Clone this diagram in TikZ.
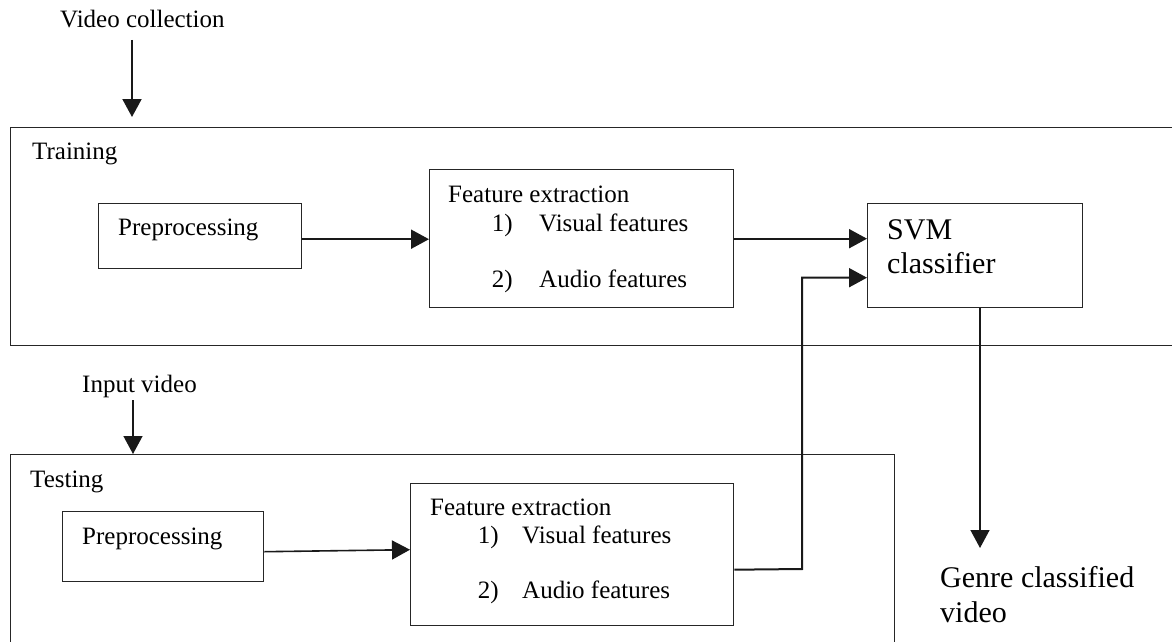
\documentclass[tikz,border=0pt]{standalone}
\usepackage{fontspec}
\setmainfont{Liberation Serif}
\usetikzlibrary{arrows.meta}
\begin{document}
\begin{tikzpicture}[x=1pt,y=-1pt,
  box/.style={draw=black!85, line width=1.4pt, anchor=north west, inner sep=0pt},
  txt/.style={anchor=base west, inner sep=0pt, font=\fontsize{25}{30}\selectfont},
  num/.style={anchor=base east, inner sep=0pt, font=\fontsize{25}{30}\selectfont},
  big/.style={anchor=base west, inner sep=0pt, font=\fontsize{30}{35}\selectfont},
  arr/.style={-{Triangle[length=18pt,width=19pt]}, line width=2pt, draw=black!90},
  thinarr/.style={arr, line width=1.4pt},
]
\useasboundingbox (0,0) rectangle (1172,642);
% frames
\node[box, minimum width=1180pt, minimum height=218pt] (train) at (10,127) {};
\node[box, minimum width=884pt, minimum height=220pt] (test) at (10,454) {};
% training boxes
\node[box, minimum width=203pt, minimum height=65pt] (pre1) at (98,203) {};
\node[box, minimum width=304pt, minimum height=138pt] (fe1) at (429,169) {};
\node[box, minimum width=215pt, minimum height=104pt] (svm) at (867,203) {};
% testing boxes
\node[box, minimum width=201pt, minimum height=70pt] (pre2) at (62,511) {};
\node[box, minimum width=323pt, minimum height=142pt] (fe2) at (410,483) {};

% texts
\node[txt] (vc) at (60,28) {Video collection};
\node[txt] (trl) at (32,159) {Training};
\node[txt] (p1t) at (118,235) {Preprocessing};
\node[txt] (f1t) at (448,202) {Feature extraction};
\node[num] (f1n1) at (513,231) {1)};
\node[txt] (f1v) at (539,231) {Visual features};
\node[num] (f1n2) at (513,287) {2)};
\node[txt] (f1a) at (539,287) {Audio features};
\node[big] (svm1) at (887,239) {SVM};
\node[big] (svm2) at (887,273) {classifier};
\node[txt] (iv) at (82,392) {Input video};
\node[txt] (tel) at (30,487) {Testing};
\node[txt] (p2t) at (82,544) {Preprocessing};
\node[txt] (f2t) at (430,515) {Feature extraction};
\node[num] (f2n1) at (499,543) {1)};
\node[txt] (f2v) at (522,543) {Visual features};
\node[num] (f2n2) at (499,598) {2)};
\node[txt] (f2a) at (522,598) {Audio features};
\node[big] (g1) at (940,587) {Genre classified};
\node[big] (g2) at (940,622) {video};

% connectors
\coordinate (vcs) at (132,40);
\coordinate (vce) at (132,117);
\draw[arr] (vcs) -- (vce);
\coordinate (ivs) at (133,400);
\draw[thinarr] (ivs) -- (ivs |- test.north);
\draw[arr] ([yshift=-3pt]pre1.east) -- ([yshift=-3pt]pre1.east -| fe1.west);
\draw[arr] (fe1.east) -- (fe1.east -| svm.west);
\draw[arr, line width=1.6pt] ([yshift=-5pt]pre2.east) -- ([yshift=5pt]fe2.west);
\coordinate (bend) at (802,569);
\draw[arr] ([yshift=-15pt]fe2.east) -- (bend) |- ([yshift=-22pt]svm.west);
\coordinate (gend) at (980,548);
\draw[thinarr] (svm.south -| gend) -- (gend);
\end{tikzpicture}
\end{document}
